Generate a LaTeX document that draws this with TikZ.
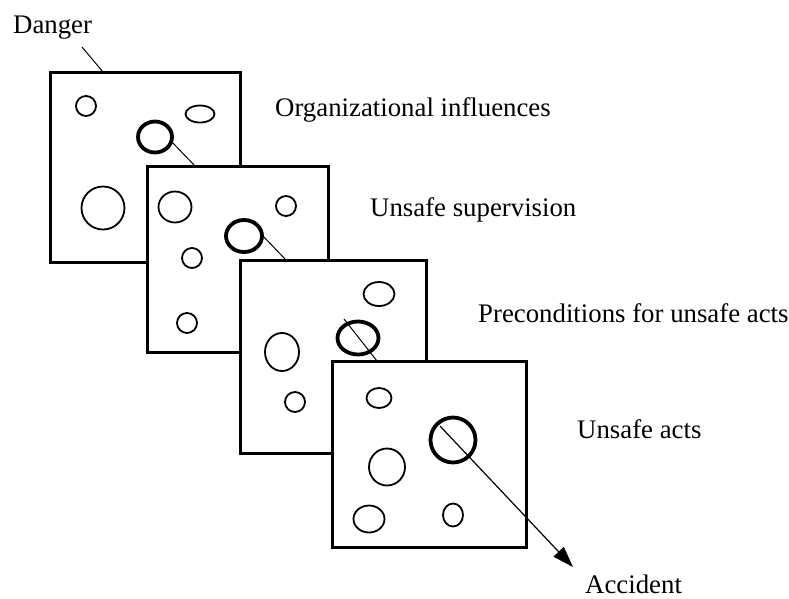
\documentclass[tikz,border=0pt]{standalone}
\usepackage{fontspec}
\setmainfont{Liberation Serif}
\usetikzlibrary{arrows.meta}
\begin{document}
\begin{tikzpicture}[x=1pt,y=-1pt,
  panel/.style={draw, line width=3pt, fill=white, inner sep=0pt, outer sep=0pt, rectangle},
  hole/.style={line width=1.8pt},
  bighole/.style={line width=3.8pt},
  traj/.style={line width=1pt},
  lbl/.style={font=\fontsize{26.8}{31}\selectfont, anchor=base west, inner sep=0pt}]
\useasboundingbox (0,0) rectangle (789,598);

% Danger
\node[lbl] (danger) at (13,33) {Danger};
\coordinate (d0) at (82,47);
\coordinate (d1) at (103,72);
\draw[traj] (d0) -- (d1);

% Panel 1
\node[panel, minimum width=190pt, minimum height=190pt] (p1) at (145,167) {};
\draw[hole] (86,106) circle[radius=10pt];
\draw[hole] (200,114) ellipse[x radius=14.5pt, y radius=8.5pt];
\draw[bighole] (155,137) ellipse[x radius=17pt, y radius=15.5pt];
\draw[hole] (103,208) circle[radius=21.5pt];
\coordinate (h1) at (170,140);
\coordinate (e1) at (195,166);
\draw[traj] (h1) -- (e1);

% Panel 2
\node[panel, minimum width=181pt, minimum height=186pt] (p2) at (237.5,259) {};
\draw[hole] (175,207) ellipse[x radius=16.5pt, y radius=15.5pt];
\draw[hole] (286,206) circle[radius=10pt];
\draw[bighole] (244,236) ellipse[x radius=18pt, y radius=16pt];
\draw[hole] (192,258) circle[radius=10pt];
\draw[hole] (187,323) circle[radius=10pt];
\coordinate (h2) at (262,235);
\coordinate (e2) at (286,260);
\draw[traj] (h2) -- (e2);

% Panel 3
\node[panel, minimum width=186pt, minimum height=193pt] (p3) at (333,356.5) {};
\draw[hole] (379,294) ellipse[x radius=15.5pt, y radius=12pt];
\draw[bighole] (358,338) ellipse[x radius=20.5pt, y radius=16.5pt];
\draw[hole] (282,352) ellipse[x radius=17pt, y radius=19pt];
\draw[hole] (295,402) circle[radius=10pt];
\coordinate (h3) at (344,319);
\coordinate (e3) at (377,361);
\draw[traj] (h3) -- (e3);

% Panel 4
\node[panel, minimum width=194pt, minimum height=186pt] (p4) at (429,454) {};
\draw[hole] (379,398) ellipse[x radius=12.5pt, y radius=10pt];
\draw[bighole] (453,440) circle[radius=22.5pt];
\draw[hole] (387,467) ellipse[x radius=18pt, y radius=18.5pt];
\draw[hole] (369,519) ellipse[x radius=15.5pt, y radius=13.5pt];
\draw[hole] (453,515) ellipse[x radius=10pt, y radius=11.5pt];
\coordinate (h4) at (440,426);
\coordinate (e4) at (573,567);
\draw[line width=1.2pt, -{Triangle[length=21pt, width=14pt]}] (h4) -- (e4);

% Labels
\node[lbl] (l1) at (275,116) {Organizational influences};
\node[lbl] (l2) at (370,216) {Unsafe supervision};
\node[lbl] (l3) at (478,322) {Preconditions for unsafe acts};
\node[lbl] (l4) at (577,438) {Unsafe acts};
\node[lbl] (acc) at (585,593) {Accident};
\end{tikzpicture}
\end{document}
